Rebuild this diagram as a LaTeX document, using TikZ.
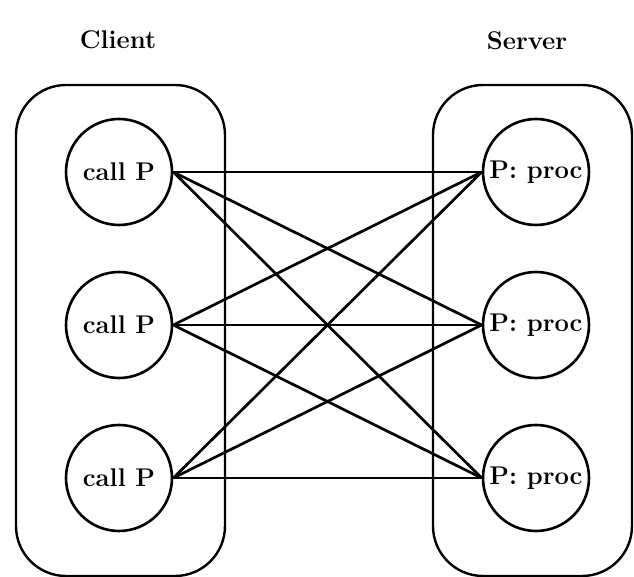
\documentclass[tikz,border=0pt]{standalone}
\usepackage{amsmath}
\usepackage{tikz}
\usetikzlibrary{positioning}

\begin{document}
\begin{tikzpicture}[x=0.5pt, y=-0.5pt, line width=1.35pt, node distance=76.5pt,
font=\fontsize{12.8}{15}\selectfont\bfseries,
roundnode/.style={circle, draw=black, line width=1.3pt, minimum size=53pt, inner sep=0pt},
groupbox/.style={rectangle, rounded corners=25pt, draw=black, line width=1.2pt, minimum width=#1, minimum height=245.5pt},
title/.style={inner sep=0pt}]
    \useasboundingbox (0,0) rectangle (634,577);

    % the two sides
    \node[groupbox=104.5pt] (clientBox) at (120.5,330.5) {};
    \node[groupbox=99.5pt] (serverBox) at (532.5,330.5) {};
    \node[title] (client) at (118,40) {Client};
    \node[title] (server) at (527,41) {Server};

    % callers
    \node[roundnode] (call1) at (119,172) {call P};
    \node[roundnode] [below of=call1] (call2) {call P};
    \node[roundnode] [below of=call2] (call3) {call P};

    % procedures
    \node[roundnode] (proc1) at (536,172) {P: proc};
    \node[roundnode] [below of=proc1] (proc2) {P: proc};
    \node[roundnode] [below of=proc2] (proc3) {P: proc};

    \path
      (call1.east) edge (proc1.west)
                   edge (proc2.west)
                   edge (proc3.west)
      (call2.east) edge (proc1.west)
                   edge (proc2.west)
                   edge (proc3.west)
      (call3.east) edge (proc1.west)
                   edge (proc2.west)
                   edge (proc3.west);
\end{tikzpicture}
\end{document}
